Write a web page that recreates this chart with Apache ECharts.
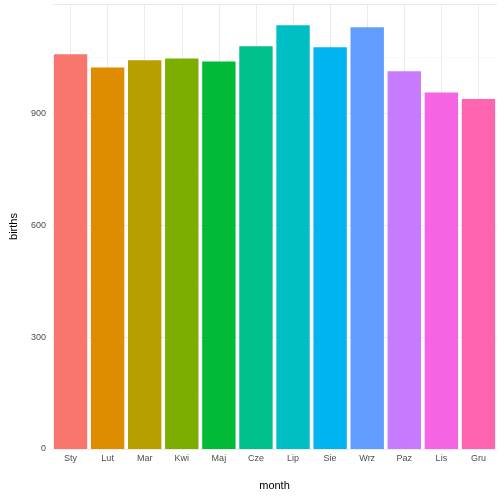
<!DOCTYPE html>
<html><head><meta charset="utf-8">
<script src="https://cdn.jsdelivr.net/npm/echarts@6/dist/echarts.min.js"></script>
<style>html,body{margin:0;padding:0;background:#fff}#chart{width:504px;height:504px}</style>
</head><body><div id="chart"></div>
<script>
var months = ['Sty','Lut','Mar','Kwi','Maj','Cze','Lip','Sie','Wrz','Paz','Lis','Gru'];
var births = [1058,1023,1042,1047,1039,1080,1136,1077,1131,1013,956,938];
var colors = ['#F8766D','#DE8C00','#B79F00','#7CAE00','#00BA38','#00C08B','#00BFC4','#00B4F0','#619CFF','#C77CFF','#F564E3','#FF64B0'];
var gridPos = [];
for (var i = 0; i < 25; i++) gridPos.push(String(i));

var myChart = echarts.init(document.getElementById('chart'));
myChart.setOption({
    animation: false,
    grid: {left: 44, right: 7, top: 4, bottom: 55},
    xAxis: [{
        type: 'category', data: months,
        name: 'month', nameLocation: 'middle', nameGap: 31,
        nameTextStyle: {color: '#000', fontSize: 11, fontFamily: 'Liberation Sans'},
        axisLine: {show: false}, axisTick: {show: false},
        axisLabel: {color: '#4d4d4d', fontSize: 9, margin: 5, fontFamily: 'Liberation Sans'},
        splitLine: {show: false}
    }, {
        type: 'category', data: gridPos, boundaryGap: false, position: 'bottom',
        axisLine: {show: false}, axisTick: {show: false}, axisLabel: {show: false},
        splitLine: {show: true, interval: function (i) { return i % 2 == 1; }, lineStyle: {color: '#ebebeb', width: 1}}
    }],
    yAxis: {
        type: 'value', min: 0, max: 1193, interval: 300,
        name: 'births', nameLocation: 'middle', nameGap: 33,
        nameTextStyle: {color: '#000', fontSize: 11, fontFamily: 'Liberation Sans'},
        axisLine: {show: false}, axisTick: {show: false},
        axisLabel: {color: '#4d4d4d', fontSize: 9, margin: 6, fontFamily: 'Liberation Sans',
            formatter: function (v) { return v % 300 == 0 ? v : ''; }},
        splitLine: {lineStyle: {color: '#ebebeb', width: 1}},
        minorTick: {show: false, splitNumber: 2},
        minorSplitLine: {show: true, lineStyle: {color: '#f5f5f5', width: 0.6}}
    },
    series: [{
        type: 'bar', xAxisIndex: 0, data: births, barCategoryGap: '10%',
        itemStyle: {color: function (p) { return colors[p.dataIndex]; }}
    }]
});
</script></body></html>
